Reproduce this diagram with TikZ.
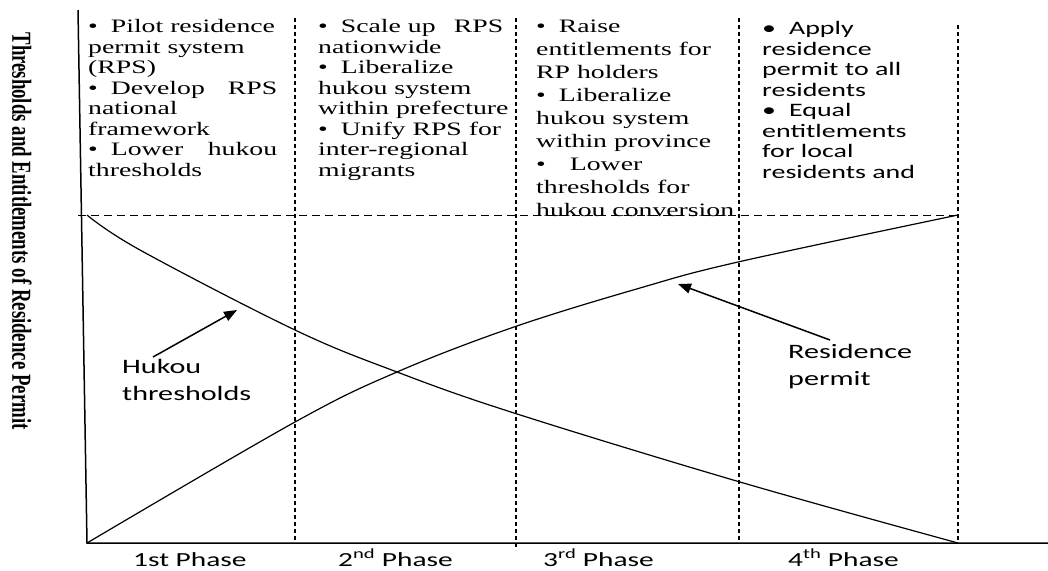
\documentclass[tikz,border=0pt]{standalone}
\usepackage{fontspec}
\setmainfont{Liberation Serif}
\newfontfamily\serifS[FakeStretch=1.46]{Liberation Serif}
\newfontfamily\sansS[FakeStretch=1.47]{Carlito}
\usetikzlibrary{arrows.meta}
\begin{document}
\begin{tikzpicture}[x=1pt,y=-1pt,
  axis/.style={line width=1.5pt},
  phaseline/.style={line width=1.4pt, dash pattern=on 4pt off 3pt},
  refline/.style={line width=1pt, dash pattern=on 8pt off 5pt},
  curve/.style={line width=1.2pt},
  pointer/.style={line width=1.5pt, -{Triangle[length=13pt,width=10pt]}},
  coltext/.style={anchor=base west, inner sep=0pt, align=left},
  sertext/.style={coltext, font=\serifS\fontsize{19pt}{20.5pt}\selectfont},
  sanstext/.style={coltext, font=\sansS\fontsize{19pt}{20.5pt}\selectfont},
  lbl/.style={coltext, font=\sansS\fontsize{20.5pt}{27pt}\selectfont},
  phaselbl/.style={anchor=base west, inner sep=0pt, font=\sansS\fontsize{20pt}{24pt}\selectfont}]
\useasboundingbox (0,0) rectangle (1048,570);

% axes
\coordinate (ytop) at (78,10);
\coordinate (O) at (87,543);
\coordinate (xend) at (1048,543);
\draw[axis] (ytop) -- (O) -- (xend);

% phase separators
\coordinate (p1t) at (295,18);  \coordinate (p1b) at (295,543);
\coordinate (p2t) at (516,18);  \coordinate (p2b) at (516,550);
\coordinate (p3t) at (739,18);  \coordinate (p3b) at (739,543);
\coordinate (p4t) at (958,25);  \coordinate (p4b) at (958,543);
\draw[phaseline] (p1t) -- (p1b);
\draw[phaseline] (p2t) -- (p2b);
\draw[phaseline] (p3t) -- (p3b);
\draw[phaseline] (p4t) -- (p4b);

% reference level
\coordinate (rl) at (78,215);
\coordinate (rr) at (958,215);
\draw[refline] (rl) -- (rr);

% curves
\draw[curve] plot[smooth, tension=0.6] coordinates {(87,215) (140,250) (295,330) (397,372) (514,413) (740,482) (958,543)};
\draw[curve] plot[smooth, tension=0.6] coordinates {(87,543) (295,422) (397,372) (514,327) (640,288) (738,262) (958,215)};

% y label
\node[inner sep=0pt] (ylabel) at (22,231) {\scalebox{1.46}[1]{\rotatebox{-90}{\bfseries\fontsize{18.8pt}{20pt}\selectfont Thresholds and Entitlements of Residence Permit}}};

% phase texts (anchored at the baseline of the last line)
\node[sertext] (c1) at (88,176) {%
\textbullet\hspace{13pt}Pilot residence\\
permit system\\
(RPS)\\
\hbox to 189pt{\textbullet\hspace{13pt}Develop\hfill RPS}\\
national\\
framework\\
\hbox to 189pt{\textbullet\hspace{13pt}Lower\hfill hukou}\\
thresholds};

\node[sertext] (c2) at (318,176) {%
\hbox to 185pt{\textbullet\hspace{13pt}Scale up\hfill RPS}\\
nationwide\\
\textbullet\hspace{13pt}Liberalize\\
hukou system\\
within prefecture\\
\textbullet\hspace{13pt}Unify RPS for\\
inter-regional\\
migrants};

\node[sertext, font=\serifS\fontsize{19pt}{23pt}\selectfont] (c3) at (536,216) {%
\textbullet\hspace{13pt}Raise\\
entitlements for\\
RP holders\\
\textbullet\hspace{13pt}Liberalize\\
hukou system\\
within province\\
\textbullet\hspace{24pt}Lower\\
thresholds for\\
hukou conversion};

\node[sanstext] (c4) at (762,178) {%
\textbullet\hspace{13pt}Apply\\
residence\\
permit to all\\
residents\\
\textbullet\hspace{13pt}Equal\\
entitlements\\
for local\\
residents and};

% curve labels and pointers
\node[lbl] (hlbl) at (122,400) {Hukou\\thresholds};
\node[lbl] (rlbl) at (788,385) {Residence\\permit};
\coordinate (ht) at (153,357);
\coordinate (hh) at (237,310);
\coordinate (rt) at (830,340);
\coordinate (rh) at (678,284);
\draw[pointer] (ht) -- (hh);
\draw[pointer] (rt) -- (rh);

% phase labels
\node[phaselbl] (ph1) at (133,566) {1st Phase};
\node[phaselbl] (ph2) at (338,566) {2\textsuperscript{nd} Phase};
\node[phaselbl] (ph3) at (543,566) {3\textsuperscript{rd} Phase};
\node[phaselbl] (ph4) at (788,566) {4\textsuperscript{th} Phase};
\end{tikzpicture}
\end{document}
